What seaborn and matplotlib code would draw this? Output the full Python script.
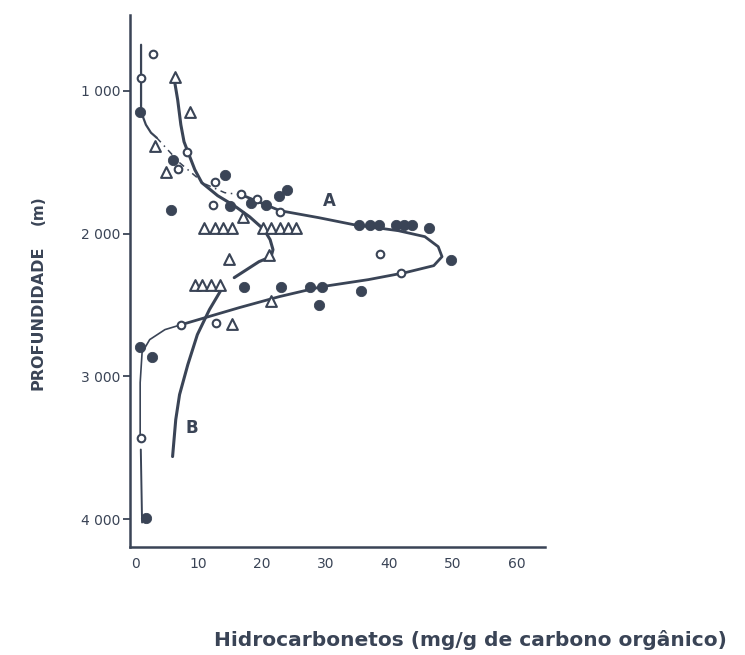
import numpy as np
import pandas as pd
import matplotlib
matplotlib.use('Agg')
import matplotlib.pyplot as plt
import seaborn as sns

ink = '#3a4456'

# Points: (hydrocarbons mg/g C org, depth m)
open_circ_x = [2.8, 0.9, 8.1, 6.7, 12.5, 12.3, 16.7, 19.2, 22.8, 38.6, 41.9, 7.2, 12.8, 0.9]
open_circ_d = [740, 910, 1430, 1550, 1640, 1800, 1720, 1755, 1850, 2140, 2275, 2640, 2625, 3435]

fill_circ_x = [0.8, 5.9, 5.6, 14.1, 15.0, 18.3, 20.6, 22.7, 23.9,
               35.2, 37.0, 38.4, 41.1, 42.3, 43.6, 46.3, 49.7,
               17.2, 23.0, 27.5, 29.4, 35.5, 28.9, 0.8, 2.7, 1.7]
fill_circ_d = [1150, 1485, 1835, 1590, 1810, 1785, 1800, 1740, 1695,
               1938, 1938, 1938, 1938, 1938, 1938, 1959, 2183,
               2372, 2372, 2372, 2372, 2400, 2498, 2792, 2862, 3989]

tri_x = [6.25, 8.6, 3.1, 4.8, 17.0,
         10.9, 12.5, 13.9, 15.3,
         20.2, 21.4, 22.8, 24.1, 25.3,
         14.7, 21.1,
         9.4, 10.6, 12.0, 13.3,
         21.4, 15.2]
tri_d = [902, 1147, 1385, 1567, 1882,
         1960, 1960, 1960, 1960,
         1960, 1960, 1960, 1960, 1960,
         2180, 2150,
         2360, 2360, 2360, 2360,
         2475, 2635]

# Curve A (circles)
a_top_x = [0.94, 0.94, 0.94, 1.7, 2.5, 3.4]
a_top_d = [678, 909, 1147, 1238, 1294, 1329]
a_mid_x = [3.4, 7.0, 10.9, 14.1, 16.7]
a_mid_d = [1329, 1504, 1651, 1714, 1728]
a_loop_x = [16.7, 22.8, 28.9, 34.4, 41.4, 45.6, 47.7, 48.3, 47.0, 42.5, 36.7, 29.4, 22.7, 16.4, 7.3]
a_loop_d = [1728, 1840, 1889, 1938, 1980, 2022, 2092, 2162, 2225, 2274, 2323, 2372, 2442, 2519, 2638]
a_low_x = [7.3, 4.7, 2.3, 1.1, 0.8, 0.8]
a_low_d = [2638, 2673, 2743, 2834, 3044, 3436]
a_bot_x = [0.9, 1.1]
a_bot_d = [3513, 4024]

# Curve B (triangles)
b_up_x = [6.25, 6.7, 7.2, 7.7, 8.3, 9.4, 10.5, 13.0, 15.6, 18.0, 20.3, 21.25, 21.7, 21.4, 19.5, 15.6]
b_up_d = [944, 1063, 1238, 1357, 1427, 1553, 1644, 1735, 1805, 1882, 1973, 2043, 2113, 2162, 2197, 2309]
b_low_x = [13.75, 11.7, 9.8, 8.3, 7.0, 6.4, 5.9]
b_low_d = [2379, 2533, 2708, 2918, 3128, 3303, 3562]

x_ticks = [0, 10, 20, 30, 40, 50, 60]
y_ticks = [1000, 2000, 3000, 4000]
y_tick_labels = ['1 000', '2 000', '3 000', '4 000']

sns.set_style('white')
plt.rcParams['font.family'] = ['DejaVu Sans']

fig = plt.figure(figsize=(7.45, 6.55), dpi=100)
ax = fig.add_axes([0.1745, 0.165, 0.557, 0.812])

def curve(xs, ds, lw, ls='-'):
    sns.lineplot(x=xs, y=ds, sort=False, estimator=None, color=ink,
                 lw=lw, ls=ls, ax=ax)

curve(a_top_x, a_top_d, 1.6)
curve(a_mid_x, a_mid_d, 1.1, (0, (4, 3, 1, 3)))
curve(a_loop_x, a_loop_d, 2.0)
curve(a_low_x, a_low_d, 1.2)
curve(a_bot_x, a_bot_d, 1.4)
curve(b_up_x, b_up_d, 2.2)
curve(b_low_x, b_low_d, 2.2)

sns.scatterplot(x=fill_circ_x, y=fill_circ_d, s=55, color=ink, edgecolor=ink,
                marker='o', ax=ax, zorder=3)
sns.scatterplot(x=open_circ_x, y=open_circ_d, s=30, facecolor='white',
                edgecolor=ink, linewidth=1.5, marker='o', ax=ax, zorder=4)
sns.scatterplot(x=tri_x, y=tri_d, s=60, facecolor='white', edgecolor=ink,
                linewidth=1.5, marker='^', ax=ax, zorder=4)

ax.text(30.5, 1770, 'A', color=ink, fontsize=12, fontweight='bold', ha='center', va='center')
ax.text(9.0, 3360, 'B', color=ink, fontsize=12, fontweight='bold', ha='center', va='center')

ax.set_xlim(-0.8, 64.5)
ax.set_ylim(4195, 470)
ax.set_xticks(x_ticks)
ax.set_xticklabels([str(t) for t in x_ticks])
ax.set_yticks(y_ticks)
ax.set_yticklabels(y_tick_labels)
ax.tick_params(axis='x', length=0, pad=7, labelsize=10, labelcolor=ink)
ax.tick_params(axis='y', length=5, width=1.3, color=ink, direction='out',
               pad=2, labelsize=10, labelcolor=ink, left=True)

for side in ['top', 'right']:
    ax.spines[side].set_visible(False)
for side in ['left', 'bottom']:
    ax.spines[side].set_color(ink)
    ax.spines[side].set_linewidth(1.8)

ax.set_ylabel('')
ax.set_xlabel('')
fig.text(38 / 745, 1 - 318 / 655, 'PROFUNDIDADE', rotation=90, color=ink,
         fontsize=11.5, fontweight='bold', ha='center', va='center')
fig.text(38 / 745, 1 - 210 / 655, '(m)', rotation=90, color=ink,
         fontsize=11, fontweight='bold', ha='center', va='center')
fig.text(470 / 745, 1 - 640 / 655, 'Hidrocarbonetos (mg/g de carbono orgânico)',
         color=ink, fontsize=14.5, fontweight='bold', ha='center', va='center')

fig.savefig('out.png', dpi=100, facecolor='white')
